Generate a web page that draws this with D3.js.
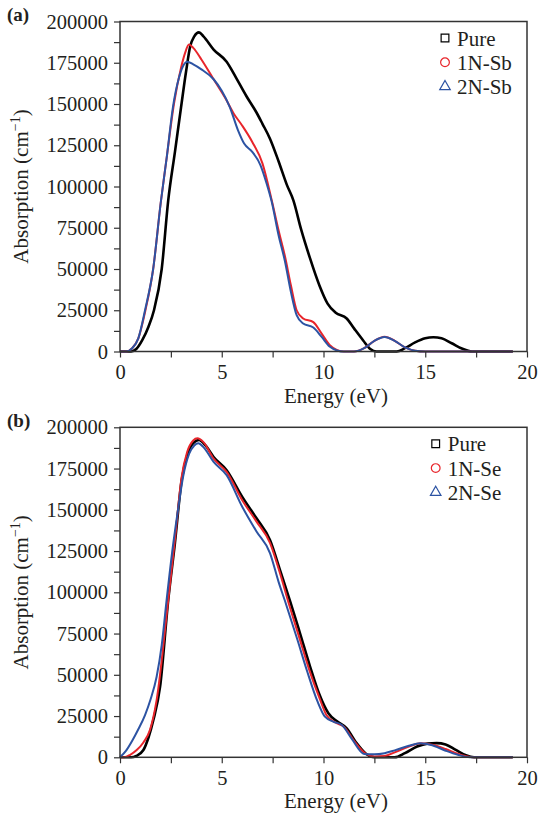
<!DOCTYPE html>
<html>
<head>
<meta charset="utf-8">
<script src="https://cdn.jsdelivr.net/npm/d3@7"></script>
</head>
<body style="margin:0">
<script>
// ---- data: [energy eV, absorption cm^-1] ----
const pureA = [[0,0],[0.55,0],[0.8,1500],[1.1,7000],[1.4,15000],[1.67,25000],[2.05,50000],[2.37,91600],[2.7,121000],[3.0,148000],[3.25,170000],[3.45,185000],[3.65,191000],[3.88,193400],[4.1,191000],[4.6,183000],[5.24,175600],[5.7,166000],[6.2,155000],[6.7,145000],[7.0,138000],[7.37,129000],[7.8,115000],[8.2,101000],[8.52,91600],[8.9,74000],[9.34,56400],[9.8,40000],[10.2,29000],[10.6,23500],[11.14,20000],[11.5,14000],[11.95,6700],[12.3,1500],[12.6,0],[13.6,0],[14.0,2000],[14.5,5500],[15.0,8000],[15.4,8600],[15.8,8000],[16.3,5000],[16.8,1800],[17.3,0],[19.3,0]];
const n1SbA = [[0,0],[0.3,0],[0.6,2000],[0.9,8000],[1.25,25000],[1.63,50000],[2.0,90000],[2.3,118000],[2.65,150000],[3.0,172000],[3.2,181000],[3.39,186000],[3.6,184000],[4.0,177000],[4.6,165000],[5.2,153000],[5.6,144000],[6.0,137000],[6.5,127000],[7.0,114000],[7.45,92000],[7.8,73000],[8.1,58000],[8.4,40000],[8.68,25000],[9.0,20000],[9.5,17800],[9.9,11000],[10.3,4000],[10.65,1000],[11.0,0],[11.5,0],[12.0,2000],[12.5,6500],[13.0,9000],[13.5,6500],[14.0,2500],[14.5,500],[15.0,0],[19.3,0]];
const n2SbA = [[0,0],[0.3,0],[0.6,2000],[0.9,8000],[1.23,25000],[1.63,50000],[2.0,90000],[2.3,118000],[2.6,148000],[2.9,166000],[3.1,173000],[3.31,175600],[3.6,174000],[4.0,171000],[4.6,165000],[5.0,158000],[5.4,148000],[5.8,134000],[6.1,126000],[6.5,121000],[6.9,113000],[7.2,102000],[7.45,91000],[7.8,70000],[8.1,55000],[8.4,36000],[8.68,22000],[9.0,17000],[9.5,14500],[9.9,9000],[10.3,3000],[10.7,500],[11.0,0],[11.5,0],[12.0,2000],[12.5,6500],[13.0,8800],[13.5,6500],[14.0,2500],[14.5,500],[15.0,0],[19.3,0]];

const pureB = [[0,0],[0.55,0],[0.8,800],[1.15,4400],[1.4,12000],[1.64,22600],[1.97,42800],[2.37,95300],[2.7,130000],[3.03,168000],[3.3,183000],[3.6,190500],[3.88,192300],[4.2,189000],[4.6,182000],[5.24,174000],[6.0,158000],[6.7,145000],[7.37,131700],[7.9,112000],[8.35,95000],[8.85,75000],[9.34,55000],[9.8,38000],[10.24,26700],[10.7,21500],[11.14,17600],[11.6,9000],[12.1,2000],[12.5,0],[13.5,0],[14.0,2500],[14.6,6500],[15.1,8300],[15.56,8600],[16.0,7800],[16.5,4500],[17.0,1200],[17.4,0],[19.3,0]];
const n1SeB = [[0,0],[0.2,0],[0.5,1500],[0.82,4400],[1.15,9000],[1.47,16500],[1.8,34700],[2.37,95300],[2.7,132000],[3.03,170000],[3.3,185000],[3.6,192000],[3.8,193300],[4.1,191000],[4.6,181000],[5.24,173000],[6.0,156000],[6.7,143000],[7.37,130000],[7.9,110000],[8.25,95000],[8.8,73000],[9.3,53000],[9.8,36000],[10.15,25500],[10.6,21000],[11.0,18500],[11.5,10000],[12.1,2000],[12.5,500],[13.0,800],[13.5,3000],[14.2,6500],[14.8,8500],[15.4,7500],[16.0,5000],[16.5,2500],[17.0,600],[17.4,0],[19.3,0]];
const n2SeB = [[0,0],[0.3,4000],[0.6,10000],[0.9,17000],[1.23,25600],[1.5,35000],[1.8,48800],[2.05,68000],[2.29,95300],[2.6,128000],[2.85,150000],[3.1,170000],[3.4,184000],[3.65,189000],[3.85,190300],[4.1,188000],[4.6,179000],[5.24,171000],[6.0,152000],[6.7,137000],[7.37,123800],[7.8,106000],[8.1,95000],[8.7,72000],[9.2,52000],[9.7,34000],[10.07,24600],[10.5,21500],[10.9,19600],[11.4,11000],[12.0,2000],[12.5,1800],[13.0,2500],[13.5,4200],[14.2,7000],[14.74,8500],[15.3,7500],[16.0,4000],[16.6,1500],[17.2,0],[19.3,0]];

const namesA = ["Pure", "1N-Sb", "2N-Sb"];
const namesB = ["Pure", "1N-Se", "2N-Se"];
const colors = ["#000000", "#e8252b", "#2c53a3"];
const widths = [2.6, 2, 2];
const symbols = [d3.symbolSquare, d3.symbolCircle, d3.symbolTriangle];
const xTicks = [0, 5, 10, 15, 20];
const yTicks = [0, 25000, 50000, 75000, 100000, 125000, 150000, 175000, 200000];

const ctx = { W: 538, H: 816, left: 120, width: 407, height: 330 };
const ink = "#231f20";

const svg = d3.select("body").append("svg")
    .attr("width", ctx.W)
    .attr("height", ctx.H)
    .attr("font-family", "Liberation Serif");

// every label goes through here so the serif face sticks
function label(sel, size) {
    return sel.attr("font-family", "Liberation Serif")
        .style("font-family", '"Liberation Serif"')
        .style("font-size", size + "px")
        .style("fill", ink);
}

function drawPanel(top, tag, series, names, legX) {
    const g = svg.append("g").attr("transform", `translate(${ctx.left},${top})`);
    const x = d3.scaleLinear().domain([0, 20]).range([0, ctx.width]);
    const y = d3.scaleLinear().domain([0, 200000]).range([ctx.height, 0]);

    const line = d3.line()
        .x(d => x(d[0]))
        .y(d => y(d[1]))
        .curve(d3.curveMonotoneX);

    series.forEach((s, i) => {
        g.append("path")
            .datum(s)
            .attr("d", line)
            .style("fill", "none")
            .style("stroke", colors[i])
            .style("stroke-width", widths[i])
            .style("stroke-linejoin", "round");
    });

    // axes with minor ticks
    const yAxis = d3.axisLeft(y)
        .tickValues(d3.range(0, 200001, 12500))
        .tickSize(6).tickPadding(6)
        .tickFormat(d => yTicks.includes(d) ? d : "");
    const xAxis = d3.axisBottom(x)
        .tickValues(d3.range(0, 20.01, 2.5))
        .tickSize(6).tickPadding(7)
        .tickFormat(d => xTicks.includes(d) ? d : "");

    const ya = g.append("g").call(yAxis);
    const xa = g.append("g").attr("transform", `translate(0,${ctx.height})`).call(xAxis);
    [ya, xa].forEach(a => {
        a.attr("font-family", "Liberation Serif").attr("font-size", 20.5);
        a.select(".domain").remove();
        a.selectAll("line").style("stroke", "#333").style("stroke-width", 1.2);
        label(a.selectAll("text"), 20.5);
    });

    g.append("rect")
        .attr("width", ctx.width).attr("height", ctx.height)
        .style("fill", "none").style("stroke", "#333").style("stroke-width", 1.5);

    // axis titles
    label(g.append("text"), 21)
        .attr("x", 216).attr("y", ctx.height + 51)
        .attr("text-anchor", "middle")
        .text("Energy (eV)");

    const yl = label(g.append("text"), 21)
        .attr("transform", `translate(-92,${ctx.height / 2}) rotate(-90)`)
        .attr("text-anchor", "middle");
    yl.append("tspan").text("Absorption (cm");
    yl.append("tspan").attr("dy", -8).style("font-size", "14px").text("\u22121");
    yl.append("tspan").attr("dy", 8).text(")");

    label(svg.append("text"), 19)
        .attr("x", 7).attr("y", top - 0.5)
        .style("font-weight", "bold")
        .text(tag);

    // legend
    const leg = g.append("g").attr("transform", `translate(${legX - ctx.left},${16.5})`);
    names.forEach((n, i) => {
        const r = leg.append("g").attr("transform", `translate(0,${i * 24.3})`);
        r.append("path")
            .attr("d", d3.symbol().type(symbols[i]).size(i === 2 ? 48 : 60)())
            .style("fill", "none")
            .style("stroke", colors[i])
            .style("stroke-width", 1.2);
        label(r.append("text"), 21)
            .attr("x", 12).attr("y", 7.5)
            .text(n);
    });
}

drawPanel(21.5, "(a)", [pureA, n1SbA, n2SbA], namesA, 445);
drawPanel(427.3, "(b)", [pureB, n1SeB, n2SeB], namesB, 435.7);
</script>
</body>
</html>
